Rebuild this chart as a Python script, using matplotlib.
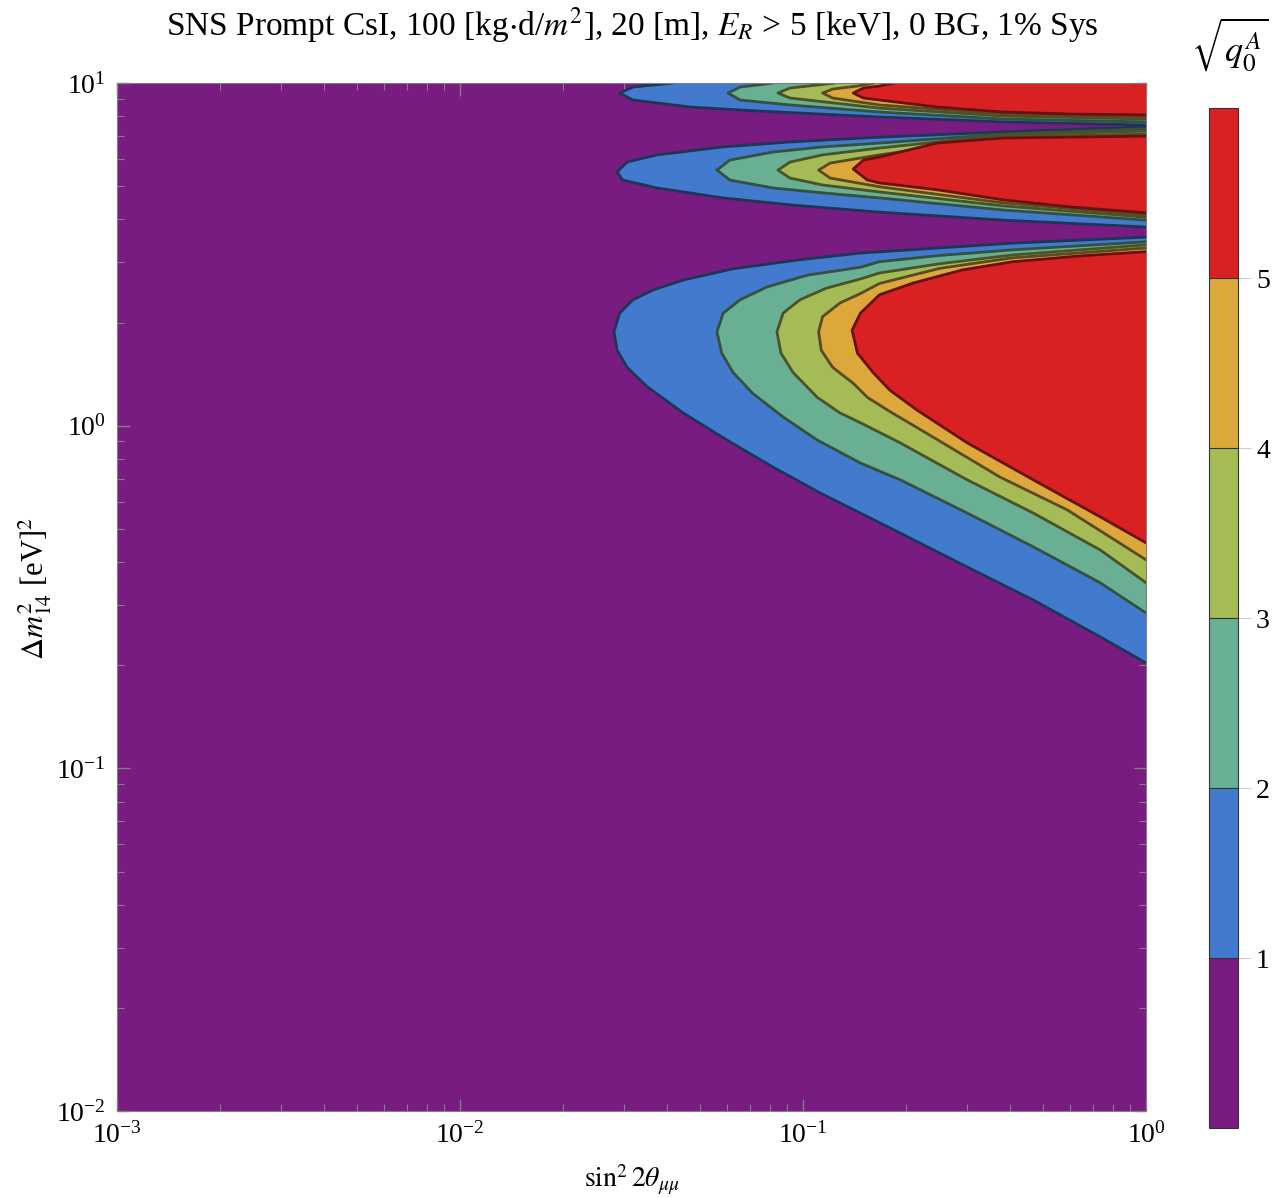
import numpy as np
import matplotlib as mpl
import matplotlib.pyplot as plt
from matplotlib.colors import ListedColormap, BoundaryNorm

plt.rcParams['font.family'] = ['Liberation Serif', 'DejaVu Serif']
plt.rcParams['mathtext.fontset'] = 'stix'

# colours of the sqrt(q0) bands, 0-1 ... >5
fill_colors = ['#781C82', '#427BCE', '#68AF94', '#A5BC56', '#DCA83C', '#D92123']
line_colors = ['#1E3557', '#34503F', '#4A5228', '#5A4A22', '#6A1010']
cbar_levels = [0, 1, 2, 3, 4, 5, 6]

# contour boundaries (sin^2 2theta, dm^2)
# lower lobe
low1_x = [1.0, 0.409, 0.147, 0.0979, 0.0625, 0.0447, 0.0366, 0.0319, 0.0292, 0.0281, 0.0287,
          0.0307, 0.0351, 0.0447, 0.0600, 0.0818, 0.112, 0.192, 0.301, 0.469, 0.735, 1.0]
low1_y = [3.55, 3.41, 3.19, 3.05, 2.87, 2.66, 2.49, 2.33, 2.13, 1.88, 1.66,
          1.48, 1.30, 1.09, 0.908, 0.757, 0.637, 0.486, 0.387, 0.310, 0.242, 0.203]
low2_x = [1.0, 0.409, 0.251, 0.167, 0.147, 0.103, 0.0785, 0.0655, 0.0585, 0.0561, 0.0579,
          0.0625, 0.0715, 0.0875, 0.110, 0.147, 0.192, 0.301, 0.469, 0.735, 1.0]
low2_y = [3.44, 3.26, 3.14, 3.01, 2.90, 2.75, 2.54, 2.33, 2.13, 1.88, 1.63,
          1.43, 1.24, 1.06, 0.908, 0.778, 0.695, 0.556, 0.443, 0.348, 0.284]
low3_x = [1.0, 0.409, 0.251, 0.167, 0.147, 0.117, 0.0979, 0.0875, 0.0839, 0.0862, 0.0935,
          0.110, 0.128, 0.147, 0.192, 0.301, 0.469, 0.735, 1.0]
low3_y = [3.37, 3.15, 2.97, 2.79, 2.68, 2.52, 2.33, 2.13, 1.88, 1.63, 1.43,
          1.21, 1.09, 1.02, 0.891, 0.695, 0.556, 0.434, 0.348]
low4_x = [1.0, 0.409, 0.251, 0.167, 0.147, 0.128, 0.114, 0.111, 0.113, 0.122, 0.140,
          0.154, 0.179, 0.239, 0.375, 0.589, 1.0]
low4_y = [3.30, 3.09, 2.88, 2.60, 2.43, 2.28, 2.08, 1.88, 1.66, 1.48, 1.33,
          1.21, 1.10, 0.927, 0.708, 0.568, 0.406]
low5_x = [1.0, 0.643, 0.409, 0.292, 0.210, 0.167, 0.147, 0.139, 0.144, 0.160, 0.179,
          0.215, 0.301, 0.469, 0.735, 1.0]
low5_y = [3.22, 3.13, 3.01, 2.85, 2.61, 2.41, 2.13, 1.90, 1.63, 1.43, 1.27,
          1.11, 0.891, 0.695, 0.542, 0.455]

# middle lobe
mid1_x = [1.0, 0.383, 0.167, 0.0916, 0.0585, 0.0375, 0.0307, 0.0287, 0.0298, 0.0375,
          0.0585, 0.0916, 0.167, 0.383, 1.0]
mid1_y = [7.44, 7.20, 6.95, 6.73, 6.51, 6.17, 5.88, 5.50, 5.21, 4.94,
          4.62, 4.41, 4.20, 3.98, 3.80]
mid2_x = [1.0, 0.383, 0.167, 0.114, 0.0818, 0.0612, 0.0561, 0.0612, 0.0818, 0.114,
          0.167, 0.383, 1.0]
mid2_y = [7.35, 7.10, 6.68, 6.51, 6.29, 5.96, 5.57, 5.21, 4.94, 4.78,
          4.62, 4.26, 3.98]
mid3_x = [1.0, 0.383, 0.167, 0.114, 0.0916, 0.0845, 0.0916, 0.114, 0.167, 0.383, 1.0]
mid3_y = [7.24, 7.05, 6.46, 6.17, 5.88, 5.57, 5.28, 5.04, 4.81, 4.38, 4.06]
mid4_x = [1.0, 0.383, 0.167, 0.120, 0.111, 0.120, 0.167, 0.383, 1.0]
mid4_y = [7.10, 6.95, 6.17, 5.84, 5.57, 5.28, 4.98, 4.47, 4.12]
mid5_x = [1.0, 0.600, 0.383, 0.246, 0.167, 0.150, 0.140, 0.154, 0.167, 0.246, 0.383,
          0.600, 1.0]
mid5_y = [7.00, 6.95, 6.91, 6.68, 6.08, 5.96, 5.61, 5.21, 5.11, 4.88, 4.56,
          4.35, 4.18]

# top lobe (cut by the upper frame)
top1_x = [0.0418, 0.0319, 0.0292, 0.0319, 0.0469, 0.0735, 0.167, 0.383, 1.0]
top1_y = [10.0, 9.73, 9.35, 8.92, 8.51, 8.29, 7.96, 7.70, 7.54]
top2_x = [0.0818, 0.0655, 0.0604, 0.0655, 0.0916, 0.167, 0.383, 1.0]
top2_y = [10.0, 9.73, 9.35, 8.92, 8.63, 8.23, 7.85, 7.70]
top3_x = [0.124, 0.0916, 0.0845, 0.0916, 0.167, 0.383, 1.0]
top3_y = [10.0, 9.67, 9.35, 9.04, 8.45, 8.01, 7.85]
top4_x = [0.162, 0.144, 0.122, 0.114, 0.122, 0.167, 0.383, 1.0]
top4_y = [10.0, 9.80, 9.60, 9.35, 9.04, 8.63, 8.12, 7.96]
top5_x = [0.185, 0.167, 0.150, 0.140, 0.150, 0.167, 0.246, 0.383, 0.600, 1.0]
top5_y = [10.0, 9.80, 9.67, 9.35, 9.04, 8.92, 8.51, 8.23, 8.12, 8.07]

lobes = [
    [(low1_x, low1_y), (low2_x, low2_y), (low3_x, low3_y), (low4_x, low4_y), (low5_x, low5_y)],
    [(mid1_x, mid1_y), (mid2_x, mid2_y), (mid3_x, mid3_y), (mid4_x, mid4_y), (mid5_x, mid5_y)],
    [(top1_x, top1_y), (top2_x, top2_y), (top3_x, top3_y), (top4_x, top4_y), (top5_x, top5_y)],
]

fig = plt.figure(figsize=(12.72, 11.98), dpi=100)
ax = fig.add_axes([0.0920, 0.0726, 0.8090, 0.8581])
ax.set_facecolor(fill_colors[0])
ax.set_xscale('log')
ax.set_yscale('log')

for lobe in lobes:
    for k, (xs, ys) in enumerate(lobe):
        px = np.r_[xs, 1.0]
        py = np.r_[ys, ys[0]]
        ax.fill(px, py, color=fill_colors[k + 1], lw=0, zorder=2 + k)
        ax.plot(xs, ys, color=line_colors[k], lw=2.0, zorder=2 + k,
                solid_joinstyle='round', solid_capstyle='round')

ax.set_xlim(1e-3, 1)
ax.set_ylim(1e-2, 10)
grey = '#808080'
for s in ax.spines.values():
    s.set_color(grey)
    s.set_zorder(20)
ax.tick_params(which='both', direction='in', top=True, right=True, color=grey,
               labelsize=20, pad=8)
ax.tick_params(which='major', length=9, width=1.0)
ax.tick_params(which='minor', length=5, width=0.8)
ax.xaxis.set_minor_locator(mpl.ticker.LogLocator(base=10, subs=np.arange(2, 10)))
ax.yaxis.set_minor_locator(mpl.ticker.LogLocator(base=10, subs=np.arange(2, 10)))

fig.text(0.497, 0.979, r'SNS Prompt CsI, 100 [kg$\cdot$d/$m^2$], 20 [m], $E_R$ > 5 [keV], 0 BG, 1% Sys',
         ha='center', va='center', fontsize=24)
fig.text(0.497, 0.015, r'$\sin^2 2\theta_{\mu\mu}$', ha='center', va='center', fontsize=20)
fig.text(0.028, 0.509, r'$\Delta m^2_{14}$ [eV]$^2$', ha='center', va='center',
         rotation=90, fontsize=22)

# colour bar
cax = fig.add_axes([1209 / 1272, 70 / 1198, 29 / 1272, 1020 / 1198])
cmap = ListedColormap(fill_colors)
norm = BoundaryNorm(cbar_levels, cmap.N)
cb = mpl.colorbar.ColorbarBase(cax, cmap=cmap, norm=norm, ticks=[1, 2, 3, 4, 5],
                               drawedges=True)
cb.outline.set_edgecolor('#333333')
cb.outline.set_linewidth(0.8)
cb.dividers.set_color('#333333')
cb.dividers.set_linewidth(0.8)
cax.tick_params(which='both', direction='out', length=9, color='#cccccc', labelsize=20, pad=4)
cax.minorticks_off()
fig.text(0.967, 0.963, r'$\sqrt{q_0^A}$', ha='center', va='center', fontsize=26)

fig.savefig('out.png', dpi=100)
